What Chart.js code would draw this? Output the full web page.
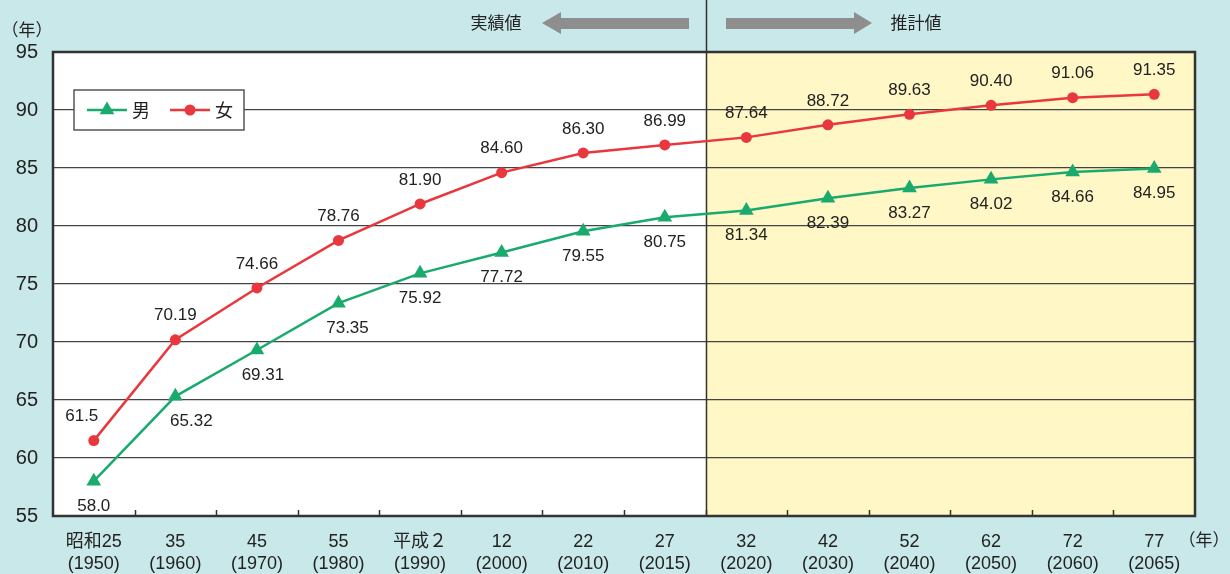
<!DOCTYPE html>
<html lang="ja">
<head>
<meta charset="utf-8">
<script src="https://cdn.jsdelivr.net/npm/chart.js@4/dist/chart.umd.min.js"></script>
<style>
  html, body { margin: 0; padding: 0; background: #c9e8e9; }
  canvas { display: block; }
</style>
</head>
<body>
<canvas id="grafica" width="1230" height="574"></canvas>
<script>
// 平均寿命の推移（実績値と推計値）
const anios = [
    ["昭和25", "(1950)"], ["35", "(1960)"], ["45", "(1970)"], ["55", "(1980)"],
    ["平成２", "(1990)"], ["12", "(2000)"], ["22", "(2010)"], ["27", "(2015)"],
    ["32", "(2020)"], ["42", "(2030)"], ["52", "(2040)"], ["62", "(2050)"],
    ["72", "(2060)"], ["77", "(2065)"],
];
const hombres = [58.0, 65.32, 69.31, 73.35, 75.92, 77.72, 79.55, 80.75, 81.34, 82.39, 83.27, 84.02, 84.66, 84.95];
const mujeres = [61.5, 70.19, 74.66, 78.76, 81.90, 84.60, 86.30, 86.99, 87.64, 88.72, 89.63, 90.40, 91.06, 91.35];
const etiquetasH = ["58.0", "65.32", "69.31", "73.35", "75.92", "77.72", "79.55", "80.75", "81.34", "82.39", "83.27", "84.02", "84.66", "84.95"];
const etiquetasM = ["61.5", "70.19", "74.66", "78.76", "81.90", "84.60", "86.30", "86.99", "87.64", "88.72", "89.63", "90.40", "91.06", "91.35"];
const inicioEstimado = 8; // primer índice del 推計値

const VERDE = "#1aaa6e";
const ROJO = "#e8383d";
const FONDO = "#c9e8e9";
const AMARILLO = "#fff7c5";
const LINEA = "#333333";
const FUENTE = "'Liberation Sans', 'Noto Sans CJK JP', sans-serif";
const FUENTE_JP = "'Noto Sans CJK JP', 'Liberation Sans', sans-serif";

// pequeños desplazamientos de etiquetas (x) donde la línea tapa el texto
const desvioH = [0, 16, 6, 9, 0, 0, 0, 0, 0, 0, 0, 0, 0, 0];
const desvioM = [-12, 0, 0, 0, 0, 0, 0, 0, 0, 0, 0, 0, 0, 0];

function limite(chart) {
    const x = chart.scales.x;
    return (x.getPixelForValue(inicioEstimado - 1) + x.getPixelForValue(inicioEstimado)) / 2;
}

const fondo = {
    id: "fondo",
    beforeDraw(chart) {
        const { ctx, chartArea: a, width, height } = chart;
        ctx.save();
        ctx.fillStyle = FONDO;
        ctx.fillRect(0, 0, width, height);
        ctx.fillStyle = "#ffffff";
        ctx.fillRect(a.left, a.top, a.right - a.left, a.bottom - a.top);
        const xl = limite(chart);
        ctx.fillStyle = AMARILLO;
        ctx.fillRect(xl, a.top, a.right - xl, a.bottom - a.top);
        ctx.restore();
    },
    beforeDatasetsDraw(chart) {
        const { ctx, chartArea: a } = chart;
        const x = chart.scales.x;
        ctx.save();
        ctx.strokeStyle = LINEA;
        // marcas pequeñas entre categorías
        ctx.lineWidth = 1.5;
        for (let i = 0; i < anios.length - 1; i++) {
            const px = Math.round((x.getPixelForValue(i) + x.getPixelForValue(i + 1)) / 2) + 0.5;
            ctx.beginPath();
            ctx.moveTo(px, a.bottom);
            ctx.lineTo(px, a.bottom - 6);
            ctx.stroke();
        }
        // línea vertical 実績値 / 推計値
        const xl = Math.round(limite(chart)) + 0.5;
        ctx.lineWidth = 1.5;
        ctx.beginPath();
        ctx.moveTo(xl, 0);
        ctx.lineTo(xl, a.bottom);
        ctx.stroke();
        // borde del área
        ctx.lineWidth = 2.5;
        ctx.strokeRect(a.left, a.top, a.right - a.left, a.bottom - a.top);
        ctx.restore();
    },
    afterDraw(chart) {
        const { ctx } = chart;
        ctx.save();

        // cabecera con flechas
        ctx.fillStyle = "#8e8e8e";
        ctx.beginPath();
        ctx.moveTo(542, 23);
        ctx.lineTo(561, 12);
        ctx.lineTo(561, 18);
        ctx.lineTo(689, 18);
        ctx.lineTo(689, 29);
        ctx.lineTo(561, 29);
        ctx.lineTo(561, 34);
        ctx.closePath();
        ctx.fill();
        ctx.beginPath();
        ctx.moveTo(872, 23);
        ctx.lineTo(854, 12);
        ctx.lineTo(854, 18);
        ctx.lineTo(726, 18);
        ctx.lineTo(726, 29);
        ctx.lineTo(854, 29);
        ctx.lineTo(854, 34);
        ctx.closePath();
        ctx.fill();

        ctx.fillStyle = "#222";
        ctx.font = "17px " + FUENTE_JP;
        ctx.textAlign = "center";
        ctx.textBaseline = "middle";
        ctx.fillText("実績値", 496, 23);
        ctx.fillText("推計値", 916, 23);
        ctx.fillText("（年）", 27, 30);
        ctx.fillText("（年）", 1204, 540);

        // leyenda
        ctx.fillStyle = "#ffffff";
        ctx.fillRect(74, 90, 170, 40);
        ctx.strokeStyle = "#555";
        ctx.lineWidth = 1.5;
        ctx.strokeRect(74, 90, 170, 40);
        const items = [
            { ds: chart.data.datasets[0], x: 87 },
            { ds: chart.data.datasets[1], x: 170 },
        ];
        items.forEach(({ ds, x }) => {
            ctx.strokeStyle = ds.borderColor;
            ctx.lineWidth = 2.5;
            ctx.beginPath();
            ctx.moveTo(x, 110);
            ctx.lineTo(x + 40, 110);
            ctx.stroke();
            ctx.fillStyle = ds.borderColor;
            Chart.helpers.drawPoint(ctx, { pointStyle: ds.pointStyle, radius: ds.pointRadius, borderWidth: 0 }, x + 20, 110);
            ctx.fillStyle = "#222";
            ctx.font = "18px " + FUENTE_JP;
            ctx.textAlign = "left";
            ctx.fillText(ds.label, x + 45, 110);
        });

        // etiquetas de valores
        ctx.font = "17px " + FUENTE;
        ctx.fillStyle = "#222";
        ctx.textAlign = "center";
        ctx.textBaseline = "middle";
        const mh = chart.getDatasetMeta(0).data;
        const mm = chart.getDatasetMeta(1).data;
        mh.forEach((p, i) => ctx.fillText(etiquetasH[i], p.x + desvioH[i], p.y + 25));
        mm.forEach((p, i) => ctx.fillText(etiquetasM[i], p.x + desvioM[i], p.y - 24));
        ctx.restore();
    },
};

const ctx = document.getElementById("grafica");
const grafica = new Chart(ctx, {
    type: "line",
    data: {
        labels: anios,
        datasets: [
            {
                label: "男",
                data: hombres,
                borderColor: VERDE,
                backgroundColor: VERDE,
                borderWidth: 2.5,
                pointStyle: "triangle",
                pointRadius: 8.5,
                pointBorderWidth: 0,
                tension: 0,
            },
            {
                label: "女",
                data: mujeres,
                borderColor: ROJO,
                backgroundColor: ROJO,
                borderWidth: 2.5,
                pointStyle: "circle",
                pointRadius: 5.5,
                pointBorderWidth: 0,
                tension: 0,
            },
        ],
    },
    options: {
        responsive: false,
        animation: false,
        devicePixelRatio: 1,
        layout: { padding: { top: 52, right: 35, left: 0, bottom: 0 } },
        plugins: {
            legend: { display: false },
            tooltip: { enabled: false },
        },
        scales: {
            x: {
                offset: true,
                grid: { display: false },
                border: { display: false },
                ticks: {
                    autoSkip: false,
                    maxRotation: 0,
                    padding: 8,
                    color: "#222",
                    font: { family: FUENTE, size: 18, lineHeight: 1.17 },
                },
                afterFit: (s) => { s.height = 58; },
            },
            y: {
                min: 55,
                max: 95,
                grid: { color: "#444", lineWidth: 1.2, drawTicks: false },
                border: { display: false },
                ticks: {
                    stepSize: 5,
                    padding: 15,
                    color: "#222",
                    font: { family: FUENTE, size: 20 },
                },
                afterFit: (s) => { s.width = 53; },
            },
        },
    },
    plugins: [fondo],
});
</script>
</body>
</html>
